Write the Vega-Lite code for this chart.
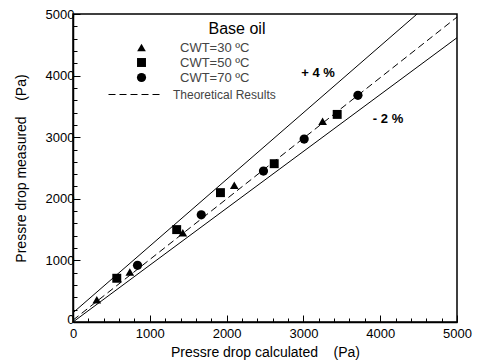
{
  "$schema": "https://vega.github.io/schema/vega-lite/v6.json",
  "width": 384,
  "height": 308,
  "autosize": {"type": "none"},
  "padding": {"left": 73, "top": 14, "right": 22, "bottom": 41},
  "background": "white",
  "config": {
    "font": "Liberation Sans",
    "view": {"stroke": "black", "strokeWidth": 1.5},
    "axis": {
      "grid": false,
      "domainColor": "black",
      "domainWidth": 1.5,
      "tickColor": "black",
      "tickWidth": 1,
      "labelColor": "black",
      "labelFontSize": 13,
      "titleFontSize": 14,
      "titleFontWeight": "normal",
      "titleColor": "black",
      "labelFlush": false
    }
  },
  "datasets": {
    "points": [
      {"cwt": "CWT=30 ºC", "calc": 310, "meas": 360},
      {"cwt": "CWT=30 ºC", "calc": 740, "meas": 810},
      {"cwt": "CWT=30 ºC", "calc": 1430, "meas": 1450},
      {"cwt": "CWT=30 ºC", "calc": 2100, "meas": 2220},
      {"cwt": "CWT=30 ºC", "calc": 3250, "meas": 3260},
      {"cwt": "CWT=50 ºC", "calc": 570, "meas": 710},
      {"cwt": "CWT=50 ºC", "calc": 1350, "meas": 1500},
      {"cwt": "CWT=50 ºC", "calc": 1920, "meas": 2100},
      {"cwt": "CWT=50 ºC", "calc": 2620, "meas": 2570},
      {"cwt": "CWT=50 ºC", "calc": 3440, "meas": 3370},
      {"cwt": "CWT=70 ºC", "calc": 840, "meas": 920},
      {"cwt": "CWT=70 ºC", "calc": 1670, "meas": 1740},
      {"cwt": "CWT=70 ºC", "calc": 2480, "meas": 2450},
      {"cwt": "CWT=70 ºC", "calc": 3010, "meas": 2970},
      {"cwt": "CWT=70 ºC", "calc": 3710, "meas": 3680}
    ],
    "theory": [
      {"series": "Theoretical Results", "calc": 0, "meas": 30},
      {"series": "Theoretical Results", "calc": 5000, "meas": 4950}
    ],
    "bounds": [
      {"line": "+4%", "calc": 0, "meas": 150},
      {"line": "+4%", "calc": 4480, "meas": 5000},
      {"line": "-2%", "calc": 0, "meas": 0},
      {"line": "-2%", "calc": 5000, "meas": 4615}
    ],
    "notes": [
      {"label": "Base oil", "calc": 2135, "meas": 4756},
      {"label": "+ 4 %", "calc": 3190, "meas": 4042},
      {"label": "- 2 %", "calc": 4102, "meas": 3295}
    ]
  },
  "encoding": {
    "x": {
      "field": "calc",
      "type": "quantitative",
      "scale": {"domain": [0, 5000], "nice": false},
      "axis": {
        "title": "Pressre drop calculated\u00a0\u00a0\u00a0\u00a0(Pa)",
        "format": "d",
        "values": [0,200,400,600,800,1000,1200,1400,1600,1800,2000,2200,2400,2600,2800,3000,3200,3400,3600,3800,4000,4200,4400,4600,4800,5000],
        "labelExpr": "datum.value % 1000 === 0 ? datum.label : ''",
        "tickSize": {"condition": {"test": "datum.value % 1000 === 0", "value": -7}, "value": -4},
        "labelPadding": 12,
        "titlePadding": 5
      }
    },
    "y": {
      "field": "meas",
      "type": "quantitative",
      "scale": {"domain": [0, 5000], "nice": false},
      "axis": {
        "title": "Pressre drop measured\u00a0\u00a0\u00a0\u00a0(Pa)",
        "format": "d",
        "values": [0,200,400,600,800,1000,1200,1400,1600,1800,2000,2200,2400,2600,2800,3000,3200,3400,3600,3800,4000,4200,4400,4600,4800,5000],
        "labelExpr": "datum.value % 1000 === 0 ? datum.label : ''",
        "tickSize": {"condition": {"test": "datum.value % 1000 === 0", "value": -7}, "value": -4},
        "labelOffset": {"condition": {"test": "datum.value === 0", "value": -3}, "value": 0},
        "labelPadding": 6,
        "titlePadding": 17
      }
    }
  },
  "layer": [
    {
      "data": {"name": "bounds"},
      "mark": {"type": "line", "color": "black", "strokeWidth": 1},
      "encoding": {"detail": {"field": "line"}}
    },
    {
      "data": {"name": "theory"},
      "mark": {"type": "line", "color": "black", "strokeWidth": 1},
      "encoding": {
        "strokeDash": {
          "field": "series",
          "type": "nominal",
          "scale": {"domain": ["Theoretical Results"], "range": [[7, 4]]},
          "legend": {
            "orient": "none",
            "legendX": 35,
            "legendY": 53,
            "title": null,
            "symbolType": "stroke",
            "symbolSize": 2916,
            "symbolStrokeColor": "black",
            "symbolStrokeWidth": 1,
            "labelFontSize": 12,
            "labelColor": "#444",
            "labelOffset": 10
          }
        }
      }
    },
    {
      "data": {"name": "points"},
      "mark": {"type": "point", "filled": true, "color": "black", "opacity": 1},
      "encoding": {
        "shape": {
          "field": "cwt",
          "type": "nominal",
          "scale": {"domain": ["CWT=30 ºC", "CWT=50 ºC", "CWT=70 ºC"], "range": ["triangle-up", "square", "circle"]},
          "legend": {
            "orient": "none",
            "legendX": 62,
            "legendY": 27,
            "title": null,
            "labelFontSize": 13,
            "labelColor": "#444",
            "labelOffset": 32,
            "rowPadding": 1,
            "symbolFillColor": "black",
            "symbolStrokeWidth": 0,
            "symbolOpacity": 1
          }
        },
        "size": {
          "field": "cwt",
          "type": "nominal",
          "scale": {"domain": ["CWT=30 ºC", "CWT=50 ºC", "CWT=70 ºC"], "range": [75, 85, 150]}
        }
      }
    },
    {
      "data": {"name": "notes"},
      "transform": [{"filter": "datum.label === 'Base oil'"}],
      "mark": {"type": "text", "fontSize": 16, "color": "black", "align": "center", "baseline": "middle"},
      "encoding": {"text": {"field": "label"}}
    },
    {
      "data": {"name": "notes"},
      "transform": [{"filter": "datum.label !== 'Base oil'"}],
      "mark": {"type": "text", "fontSize": 13, "fontWeight": "bold", "color": "black", "align": "center", "baseline": "middle"},
      "encoding": {"text": {"field": "label"}}
    }
  ]
}
